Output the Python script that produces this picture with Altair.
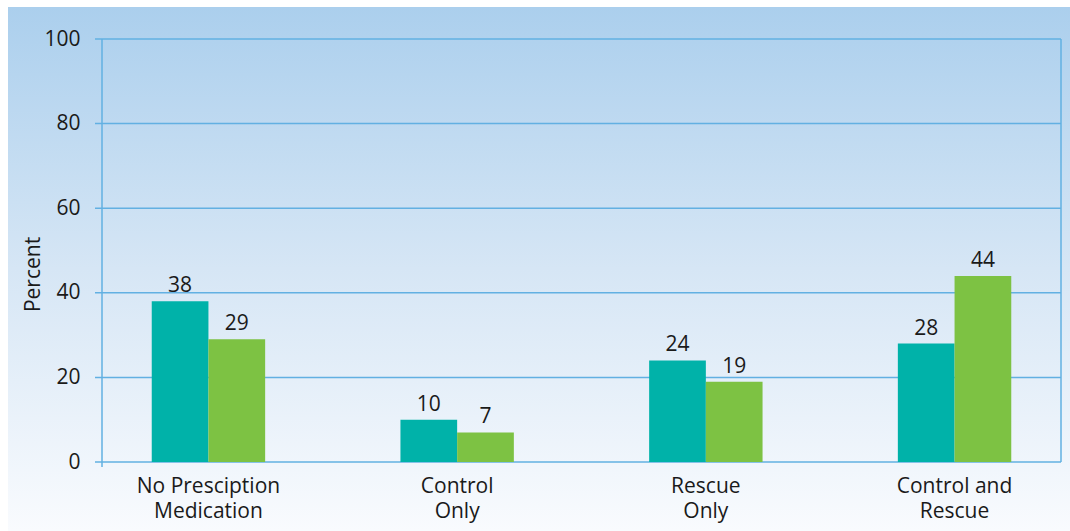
import altair as alt
import pandas as pd

# Grouped bar chart: percent of respondents by medication use, two groups
categories = ["No Presciption\nMedication", "Control\nOnly", "Rescue\nOnly", "Control and\nRescue"]
series = ["Group 1", "Group 2"]
group1 = [38, 10, 24, 28]
group2 = [29, 7, 19, 44]
y_ticks = [0, 20, 40, 60, 80, 100]

colors = ["#00b2a9", "#7dc243"]
LINE = "#62b0e2"
FONT = "Open Sans"
INK = "#1a1a1a"
FS = 21

W, H = 959, 423
PAD_L, PAD_T, PAD_R, PAD_B = 102, 39, 9, 69
TOTAL_W, TOTAL_H = 1070, 531

rows = []
for cat, a, b in zip(categories, group1, group2):
    rows.append({"category": cat, "series": series[0], "percent": a})
    rows.append({"category": cat, "series": series[1], "percent": b})
df = pd.DataFrame(rows)

one = pd.DataFrame({"k": [0]})
y_scale = alt.Scale(domain=[0, 100], nice=False)

y_axis = alt.Axis(
    title="Percent", values=y_ticks, grid=False, domain=False, ticks=False,
    labelPadding=22, labelFont=FONT, labelFontSize=FS, labelColor=INK,
    labelBaseline="middle",
    titleFont=FONT, titleFontSize=FS, titleFontWeight="normal", titleColor=INK,
    titleAngle=-90, titleAlign="center", titleBaseline="middle",
    titleX=-69, titleY=235, zindex=1,
)

# soft blue-to-white backdrop behind the whole figure
backdrop = alt.Chart(one).mark_rect(
    fill=alt.LinearGradient(
        gradient="linear",
        stops=[
            alt.GradientStop(offset=0, color="#abcfed"),
            alt.GradientStop(offset=0.5, color="#d6e6f5"),
            alt.GradientStop(offset=1, color="#f9fbfe"),
        ],
        x1=0, x2=0, y1=0, y2=1,
    ),
    stroke=None,
).encode(
    x=alt.value(8 - PAD_L), x2=alt.value(TOTAL_W - PAD_L),
    y=alt.value(7 - PAD_T), y2=alt.value(TOTAL_H - PAD_T),
)

# horizontal gridlines (with short tick stubs to the left)
grid = alt.Chart(pd.DataFrame({"percent": y_ticks})).mark_rule(
    color=LINE, strokeWidth=1.5
).encode(
    y=alt.Y("percent:Q", scale=y_scale, axis=y_axis),
    x=alt.value(-7), x2=alt.value(W),
)

left_line = alt.Chart(one).mark_rule(color=LINE, strokeWidth=1.5).encode(
    x=alt.value(0), y=alt.value(0), y2=alt.value(H + 5)
)
right_line = alt.Chart(one).mark_rule(color=LINE, strokeWidth=1.5).encode(
    x=alt.value(W), y=alt.value(0), y2=alt.value(H)
)

x_axis = alt.Axis(
    title=None, labelAngle=0, domain=False, ticks=False, grid=False,
    labelPadding=13, labelFont=FONT, labelFontSize=FS, labelColor=INK,
    labelLineHeight=25, labelBaseline="top",
    labelExpr="split(datum.label, '\\n')", zindex=1,
)
x_enc = alt.X(
    "category:N",
    sort=categories,
    scale=alt.Scale(paddingInner=0.544, paddingOuter=0.2),
    axis=x_axis,
)
xoff_enc = alt.XOffset("series:N", sort=series, scale=alt.Scale(paddingInner=0, paddingOuter=0))

bars = alt.Chart(df).mark_bar().encode(
    x=x_enc,
    xOffset=xoff_enc,
    y=alt.Y("percent:Q", scale=y_scale, axis=y_axis),
    color=alt.Color("series:N", scale=alt.Scale(domain=series, range=colors), legend=None),
)

labels = alt.Chart(df).mark_text(
    baseline="alphabetic", dy=-9, fontSize=FS, font=FONT, color=INK
).encode(
    x=alt.X("category:N", sort=categories, axis=x_axis),
    xOffset=xoff_enc,
    y=alt.Y("percent:Q", scale=y_scale, axis=y_axis),
    text=alt.Text("percent:Q"),
)

chart = alt.layer(backdrop, grid, bars, labels, left_line, right_line).properties(
    width=W,
    height=H,
    autosize=alt.AutoSizeParams(type="none"),
    padding={"left": PAD_L, "top": PAD_T, "right": PAD_R, "bottom": PAD_B},
    background="white",
).configure_view(stroke=None)

chart.save("out.html", embed_options={"renderer": "svg", "actions": False})
